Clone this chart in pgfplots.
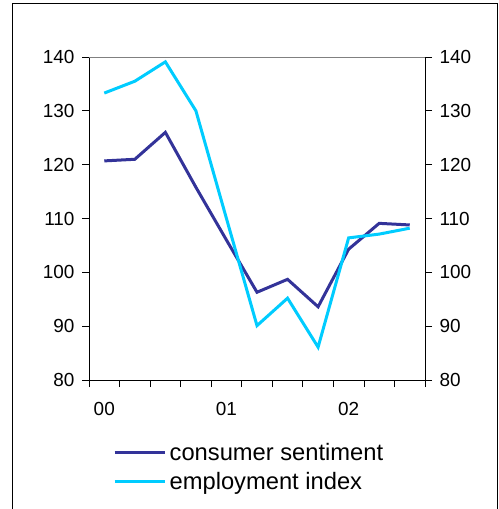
\documentclass[border=0pt]{standalone}
\usepackage{pgfplots}
\usepackage{pgfplotstable}
\pgfplotsset{compat=1.18}
\usepackage{fontspec}
\setmainfont{Liberation Sans}
\definecolor{cs}{RGB}{51,51,153}
\definecolor{ei}{RGB}{0,204,255}
\pgfplotstableread{
x cs ei
0.5 120.7 133.3
1.5 121.0 135.5
2.5 126.0 139.1
3.5 115.8 130.0
4.5 106.0 110.0
5.5 96.3 90.1
6.5 98.7 95.2
7.5 93.6 86.1
8.5 104.3 106.4
9.5 109.1 107.1
10.5 108.8 108.2
}\data
\begin{document}
\begin{tikzpicture}
\path[use as bounding box] (0,0) rectangle (499bp,509bp);
\draw[line width=1bp] (12bp,0) -- (12bp,505bp) -- (497bp,505bp) -- (497bp,0);
\begin{axis}[at={(89bp,129bp)}, anchor=south west, scale only axis,
  width=336bp, height=323bp,
  xmin=0, xmax=11, ymin=80, ymax=140,
  axis x line*=bottom, axis y line*=left,
  axis line style={-, black, line width=0.8bp},
  xtick={0,...,11}, xticklabels={},
  ytick={80,90,...,140},
  tick align=outside, major tick length=7bp,
  tick style={black, line width=0.8bp},
  extra x ticks={0.5,4.5,8.5}, extra x tick labels={00,01,02},
  extra x tick style={major tick length=0pt, xticklabel style={yshift=-19bp}},
  yticklabel style={xshift=-4bp},
  /pgf/number format/assume math mode=true,
  ticklabel style={font=\fontsize{19}{22}\selectfont},
  legend cell align=left,
  legend image code/.code={\draw[#1] (0bp,0bp) -- (50bp,0bp);},
  legend style={draw=none, fill=none, inner sep=0pt, at={(0.0714,-0.19)}, anchor=north west,
    font=\fontsize{23.8}{28}\selectfont, row sep=6bp,
    /tikz/every odd column/.append style={column sep=1.5bp}},
]
\draw[gray, line width=0.8bp] (rel axis cs:0,1) -- (rel axis cs:1,1);
\addplot[cs, line width=3bp] table[x=x, y=cs] {\data};
\addlegendentry{consumer sentiment}
\addplot[ei, line width=3bp] table[x=x, y=ei] {\data};
\addlegendentry{employment index}
\end{axis}
\begin{axis}[at={(89bp,129bp)}, anchor=south west, scale only axis,
  width=336bp, height=323bp,
  xmin=0, xmax=11, ymin=80, ymax=140,
  axis x line=none, axis y line*=right,
  axis line style={-, black, line width=0.8bp},
  ytick={80,90,...,140},
  tick align=outside, major tick length=7bp,
  tick style={black, line width=0.8bp},
  yticklabel style={xshift=4bp},
  /pgf/number format/assume math mode=true,
  ticklabel style={font=\fontsize{19}{22}\selectfont},
]
\end{axis}
\end{tikzpicture}
\end{document}
